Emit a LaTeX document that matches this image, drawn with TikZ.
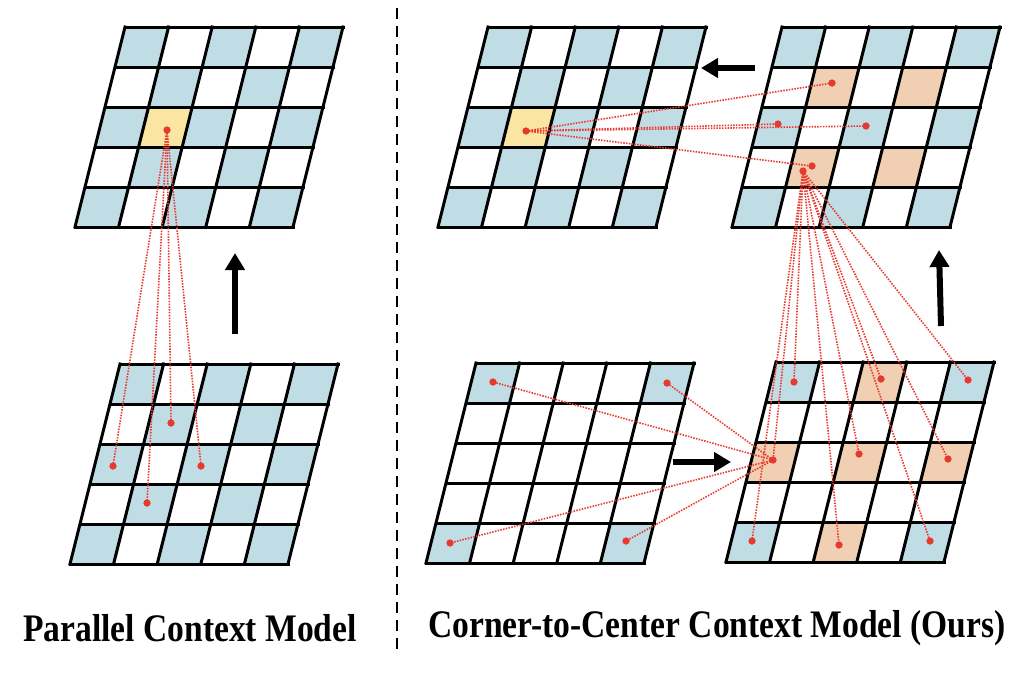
\documentclass[tikz,border=0pt]{standalone}
\usepackage{fontspec}
\setmainfont{Liberation Serif}
\usetikzlibrary{arrows.meta}
\definecolor{cellblue}{HTML}{C0DCE5}
\definecolor{cellyellow}{HTML}{FBE5A3}
\definecolor{cellpeach}{HTML}{F1CFB2}
\definecolor{dotred}{HTML}{E8392F}
\newcommand\gcell[5]{\fill[#5] ({#1+#4*43.6-#3*10},{#2+#3*40}) -- ++(43.6,0) -- ++(-10,40) -- ++(-43.6,0) -- cycle;}
\newcommand\glines[2]{\foreach \i in {0,...,5}{\draw[gridline] ({#1-\i*10},{#2+\i*40}) -- ++(218,0); \draw[gridline] ({#1+\i*43.6},{#2}) -- ++(-50,200);}}
\newcommand\checkerblue[2]{\foreach \r/\c in {0/0,0/2,0/4,1/1,1/3,2/0,2/2,2/4,3/1,3/3,4/0,4/2,4/4}{\gcell{#1}{#2}{\r}{\c}{cellblue}}}
\tikzset{
  gridline/.style={line width=3pt, black, line cap=rect},
  dot/.style={circle, fill=dotred, inner sep=0pt, minimum size=7pt},
  link/.style={dotred, line width=1.6pt, dash pattern=on 1.5pt off 1.3pt},
  bigarrow/.style={line width=6pt, -{Triangle[length=17pt,width=19pt]}},
  divider/.style={line width=1.8pt, dash pattern=on 11pt off 7pt},
  caption/.style={inner sep=0pt, font=\fontsize{39}{41}\selectfont\bfseries}
}
\begin{document}
\begin{tikzpicture}[x=1pt,y=-1pt]
\useasboundingbox (0,0) rectangle (1030,672);
\fill[white] (0,0) rectangle (1030,672);
% Grid 1 (top-left)
\checkerblue{125}{27}
\gcell{125}{27}{2}{1}{cellyellow}
\glines{125}{27}
% Grid 2 (bottom-left)
\checkerblue{120}{364}
\glines{120}{364}
% Grid 3 (top-middle)
\checkerblue{488}{27}
\gcell{488}{27}{2}{1}{cellyellow}
\glines{488}{27}
% Grid 4 (top-right)
\foreach \r/\c in {0/0,0/2,0/4,2/0,2/2,2/4,4/0,4/2,4/4}{\gcell{782}{27}{\r}{\c}{cellblue}}
\foreach \r/\c in {1/1,1/3,3/1,3/3}{\gcell{782}{27}{\r}{\c}{cellpeach}}
\glines{782}{27}
% Grid 5 (bottom-middle)
\foreach \r/\c in {0/0,0/4,4/0,4/4}{\gcell{476}{363}{\r}{\c}{cellblue}}
\glines{476}{363}
% Grid 6 (bottom-right)
\foreach \r/\c in {0/0,0/4,4/0,4/4}{\gcell{776}{362}{\r}{\c}{cellblue}}
\foreach \r/\c in {0/2,2/0,2/2,2/4,4/2}{\gcell{776}{362}{\r}{\c}{cellpeach}}
\glines{776}{362}

% dots
\node[dot] (a0) at (167,130) {};
\node[dot] (a1) at (171,423) {};
\node[dot] (a2) at (113,466) {};
\node[dot] (a3) at (201,466) {};
\node[dot] (a4) at (147,503) {};

\node[dot] (b0) at (526,131) {};
\node[dot] (b1) at (832,83) {};
\node[dot] (b2) at (778,124) {};
\node[dot] (b3) at (866,126) {};
\node[dot] (b4) at (812,166) {};
\node[dot] (bx) at (803,171) {};

\node[dot] (c1) at (493,382) {};
\node[dot] (c2) at (667,383) {};
\node[dot] (c3) at (450,543) {};
\node[dot] (c4) at (626,541) {};

\node[dot] (d00) at (794,382) {};
\node[dot] (d02) at (881,379) {};
\node[dot] (d04) at (968,380) {};
\node[dot] (d20) at (773,460) {};
\node[dot] (d22) at (859,454) {};
\node[dot] (d24) at (948,459) {};
\node[dot] (d40) at (752,541) {};
\node[dot] (d42) at (839,545) {};
\node[dot] (d44) at (930,541) {};

% links
\foreach \t in {a1,a2,a3,a4}{\draw[link] (a0.center) -- (\t.center);}
\foreach \t in {b1,b2,b3,b4}{\draw[link] (b0.center) -- (\t.center);}
\foreach \t in {c1,c2,c3,c4}{\draw[link] (d20.center) -- (\t.center);}
\foreach \t in {d00,d02,d04,d20,d22,d24,d40,d42,d44}{\draw[link] (bx.center) -- (\t.center);}
% dots on top of the links
\foreach \t in {a0,a1,a2,a3,a4,b0,b1,b2,b3,b4,bx,c1,c2,c3,c4,d00,d02,d04,d20,d22,d24,d40,d42,d44}{\fill[dotred] (\t.center) circle (3.5pt);}

% arrows
\coordinate (ar1s) at (235,334); \coordinate (ar1e) at (235,253);
\coordinate (ar2s) at (755,68);  \coordinate (ar2e) at (701,68);
\coordinate (ar3s) at (673,462); \coordinate (ar3e) at (731,462);
\coordinate (ar4s) at (941,326); \coordinate (ar4e) at (939,250);
\draw[bigarrow] (ar1s) -- (ar1e);
\draw[bigarrow] (ar2s) -- (ar2e);
\draw[bigarrow] (ar3s) -- (ar3e);
\draw[bigarrow] (ar4s) -- (ar4e);

% divider
\coordinate (dvt) at (397,8); \coordinate (dvb) at (397,650);
\draw[divider] (dvt) -- (dvb);

% captions
\node[caption] (cap1) at (190,628) {\scalebox{0.86}[1]{Parallel Context Model}};
\node[caption] (cap2) at (717,628) {\scalebox{0.86}[1]{Corner-to-Center Context Model (Ours)}};
\end{tikzpicture}
\end{document}
